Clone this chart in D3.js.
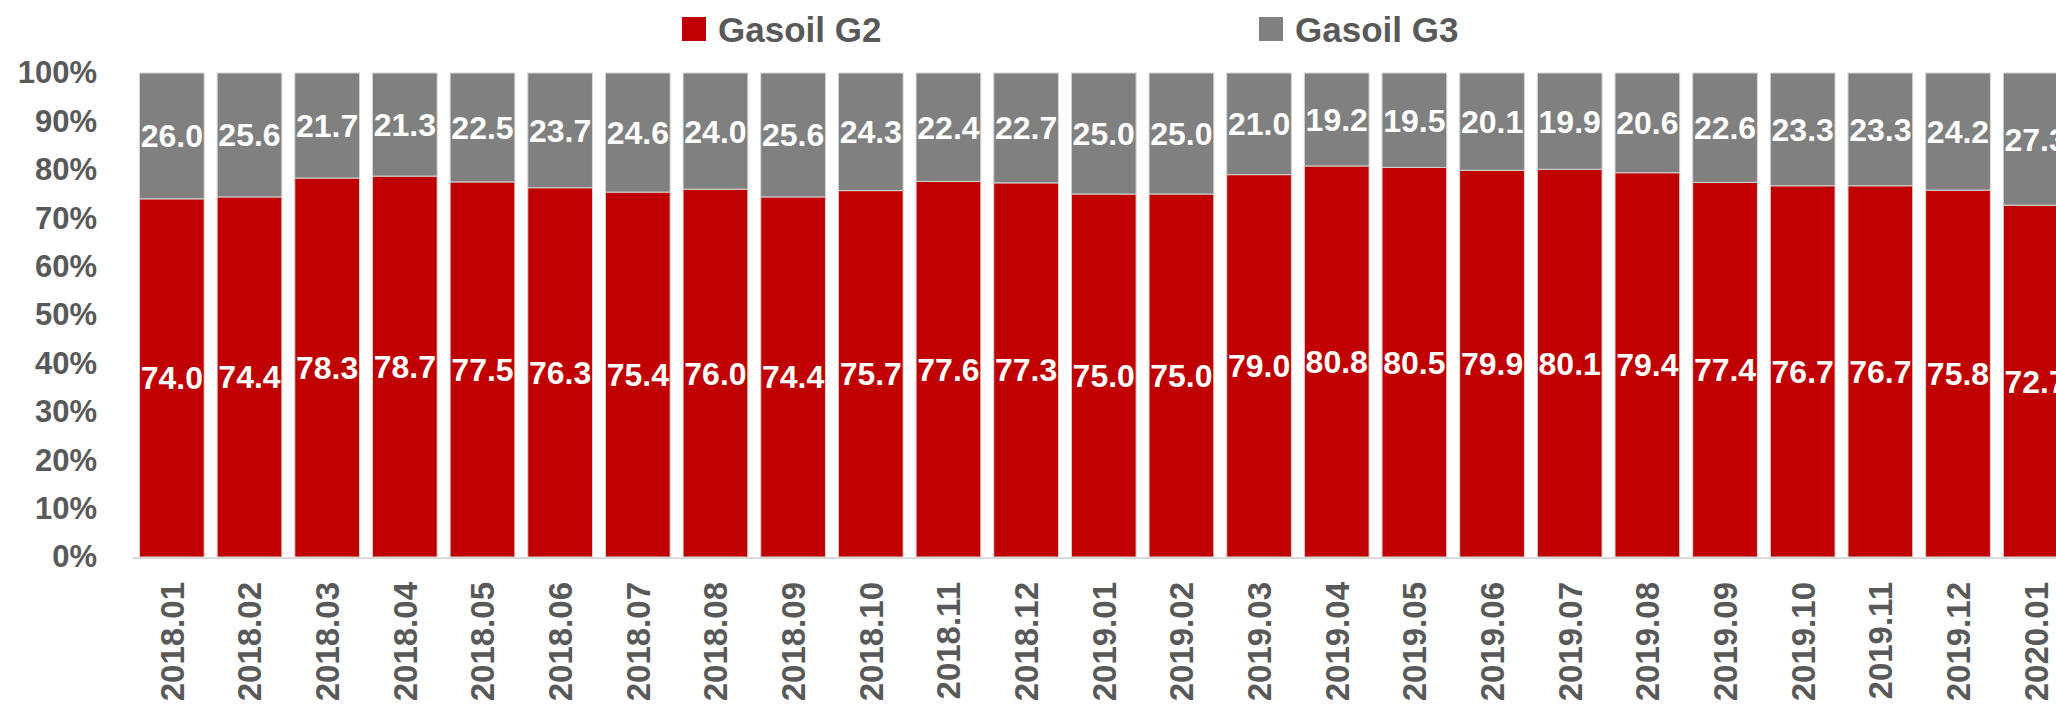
<!DOCTYPE html>
<meta charset="utf-8">
<style>

body {
  margin: 0;
  background: #fff;
}

svg text {
  font-family: "Liberation Sans", Arial, sans-serif;
  font-weight: bold;
}

</style>
<svg width="2056" height="708"></svg>
<script src="https://cdn.jsdelivr.net/npm/d3@7"></script>
<script>

// months on the x axis
var months = ["2018.01", "2018.02", "2018.03", "2018.04", "2018.05", "2018.06",
  "2018.07", "2018.08", "2018.09", "2018.10", "2018.11", "2018.12",
  "2019.01", "2019.02", "2019.03", "2019.04", "2019.05", "2019.06",
  "2019.07", "2019.08", "2019.09", "2019.10", "2019.11", "2019.12", "2020.01"];

// share of each grade, percent
var g2 = [74.0, 74.4, 78.3, 78.7, 77.5, 76.3, 75.4, 76.0, 74.4, 75.7, 77.6, 77.3,
  75.0, 75.0, 79.0, 80.8, 80.5, 79.9, 80.1, 79.4, 77.4, 76.7, 76.7, 75.8, 72.7];
var g3 = [26.0, 25.6, 21.7, 21.3, 22.5, 23.7, 24.6, 24.0, 25.6, 24.3, 22.4, 22.7,
  25.0, 25.0, 21.0, 19.2, 19.5, 20.1, 19.9, 20.6, 22.6, 23.3, 23.3, 24.2, 27.3];

var seriesNames = ["Gasoil G2", "Gasoil G3"];
var yTicks = [0, 10, 20, 30, 40, 50, 60, 70, 80, 90, 100];

var rows = months.map(function(m, i) {
  return {month: m, "Gasoil G2": g2[i], "Gasoil G3": g3[i]};
});

var svg = d3.select("svg");

var x = d3.scaleBand()
    .domain(months)
    .range([133, 2074.5])
    .paddingInner(0.167)
    .paddingOuter(0.0835);

var y = d3.scaleLinear()
    .domain([0, 100])
    .range([557, 73]);

var color = d3.scaleOrdinal()
    .domain(seriesNames)
    .range(["#C00000", "#808080"]);

var stack = d3.stack().keys(seriesNames);
var layers = stack(rows);

// y axis labels, no line and no ticks
var yAxis = svg.append("g")
    .attr("transform", "translate(97,0)")
    .call(d3.axisLeft(y).tickValues(yTicks).tickSize(0).tickPadding(0)
      .tickFormat(function(d) { return d + "%"; }));
yAxis.select(".domain").remove();
yAxis.selectAll("text")
    .attr("fill", "#595959")
    .style("font-size", "31px")
    .style("font-family", "'Liberation Sans', Arial, sans-serif")
    .style("font-weight", "bold");

// bars
var layer = svg.append("g")
  .selectAll("g")
  .data(layers)
  .enter().append("g")
    .attr("fill", function(d) { return color(d.key); });

layer.selectAll("rect")
  .data(function(d) { return d; })
  .enter().append("rect")
    .attr("x", function(d) { return x(d.data.month); })
    .attr("y", function(d) { return y(d[1]); })
    .attr("width", x.bandwidth())
    .attr("height", function(d) { return y(d[0]) - y(d[1]); })
    .attr("stroke", "#d4d4d4")
    .attr("stroke-width", 1);

// value labels in the middle of each segment
layer.selectAll("text")
  .data(function(d) { return d; })
  .enter().append("text")
    .attr("x", function(d) { return x(d.data.month) + x.bandwidth() / 2; })
    .attr("y", function(d) { return (y(d[0]) + y(d[1])) / 2; })
    .attr("dy", "0.36em")
    .attr("text-anchor", "middle")
    .attr("fill", "#fff")
    .style("font-size", "32px")
    .text(function(d) { return d3.format(".1f")(d[1] - d[0]); });

// x axis line
svg.append("line")
    .attr("x1", 133)
    .attr("x2", 2056)
    .attr("y1", y(0) + 1)
    .attr("y2", y(0) + 1)
    .attr("stroke", "#d9d9d9")
    .attr("stroke-width", 2);

// x labels, rotated
var xAxis = svg.append("g")
    .attr("transform", "translate(0," + (y(0) + 25) + ")")
    .call(d3.axisBottom(x).tickSize(0).tickPadding(0));
xAxis.select(".domain").remove();
xAxis.selectAll("text")
    .attr("fill", "#595959")
    .attr("transform", "rotate(-90)")
    .attr("x", 0)
    .attr("y", 0)
    .attr("dy", "0.36em")
    .attr("text-anchor", "end")
    .style("font-size", "33px")
    .style("font-family", "'Liberation Sans', Arial, sans-serif")
    .style("font-weight", "bold");

// legend
var legendX = [682, 1259];
var legend = svg.append("g")
  .selectAll("g")
  .data(seriesNames)
  .enter().append("g")
    .attr("transform", function(d, i) { return "translate(" + legendX[i] + ",17)"; });

legend.append("rect")
    .attr("width", 24)
    .attr("height", 24)
    .attr("fill", function(d) { return color(d); });

legend.append("text")
    .attr("x", 36)
    .attr("y", 12)
    .attr("dy", "0.36em")
    .attr("fill", "#595959")
    .style("font-size", "35px")
    .text(function(d) { return d; });

</script>
